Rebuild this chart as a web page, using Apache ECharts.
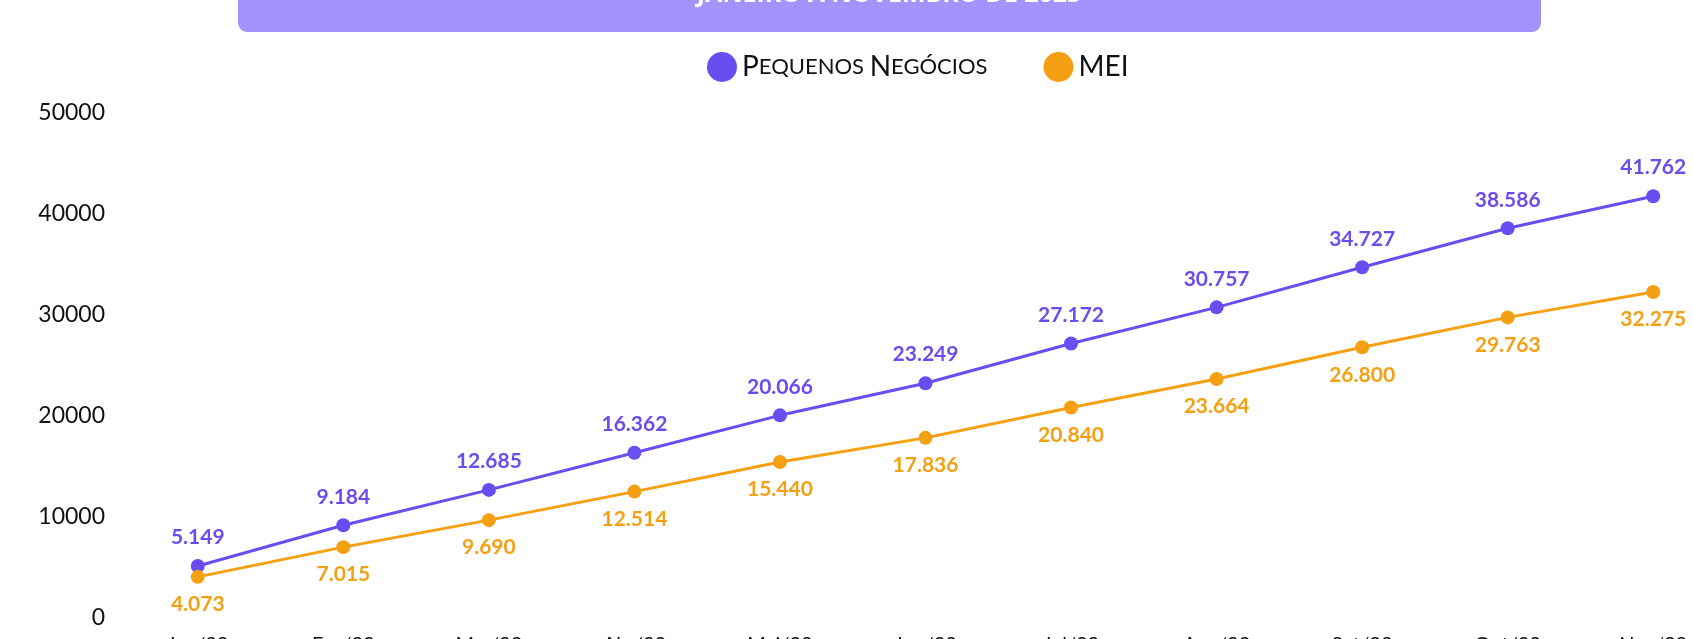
<!DOCTYPE html>
<html>
<head>
<meta charset="utf-8">
<script src="https://cdn.jsdelivr.net/npm/echarts@6/dist/echarts.min.js"></script>
<style>
  html, body { margin: 0; padding: 0; background: #fff; }
  #main { width: 1693px; height: 639px; }
</style>
</head>
<body>
<div id="main"></div>
<script>
// dados
let months = ["Jan/23", "Fev/23", "Mar/23", "Abr/23", "Mai/23", "Jun/23", "Jul/23", "Ago/23", "Set/23", "Out/23", "Nov/23"]
let pequenos = [5149, 9184, 12685, 16362, 20066, 23249, 27172, 30757, 34727, 38586, 41762]
let mei = [4073, 7015, 9690, 12514, 15440, 17836, 20840, 23664, 26800, 29763, 32275]
let yTicks = [0, 10000, 20000, 30000, 40000, 50000]

let roxo = '#6A4DF0'
let laranja = '#F4A012'

// numero no formato brasileiro: 41762 -> 41.762
function fmt(v) {
    return v.toString().replace(/\B(?=(\d{3})+(?!\d))/g, '.')
}

// imita versalete: primeira letra maior, resto em caixa alta menor
function versalete(name) {
    return name.split(' ').map(w => {
        let rest = w.slice(1)
        if (rest === rest.toUpperCase()) return '{c|' + w + '}'
        return '{c|' + w[0] + '}{s|' + rest.toUpperCase() + '}'
    }).join('{s| }')
}

var myChart = echarts.init(document.getElementById('main'))

var option = {
    backgroundColor: '#fff',
    animation: false,
    textStyle: { fontFamily: 'Lato' },
    graphic: [
        {
            type: 'rect',
            shape: { x: 238, y: -20, width: 1303, height: 52, r: 9 },
            style: { fill: '#A593FD' }
        },
        {
            type: 'text',
            x: 889, y: 7,
            style: {
                text: 'JANEIRO A NOVEMBRO DE 2023',
                fill: '#fff',
                font: 'bold 25px "Open Sans"',
                align: 'center',
                verticalAlign: 'bottom'
            }
        }
    ],
    legend: {
        left: 702,
        top: 47,
        icon: 'circle',
        itemWidth: 30,
        itemHeight: 30,
        itemGap: 56,
        formatter: versalete,
        textStyle: {
            color: '#111',
            rich: {
                c: { fontSize: 28, fontFamily: 'Lato', color: '#111' },
                s: { fontSize: 22, fontFamily: 'Lato', color: '#111' }
            }
        },
        data: ['Pequenos Negócios', 'MEI']
    },
    grid: {
        left: 125,
        width: 1601,
        top: 113,
        bottom: 21,
        outerBoundsMode: 'none'
    },
    xAxis: {
        type: 'category',
        data: months,
        boundaryGap: true,
        axisLine: { show: false },
        axisTick: { show: false },
        axisLabel: { margin: 17, fontSize: 20, color: '#111' }
    },
    yAxis: {
        type: 'value',
        min: yTicks[0],
        max: yTicks[yTicks.length - 1],
        interval: yTicks[1] - yTicks[0],
        splitLine: { show: false },
        axisLine: { show: false },
        axisTick: { show: false },
        axisLabel: { margin: 20, fontSize: 23, color: '#111', formatter: v => String(v) }
    },
    series: [
        {
            name: 'Pequenos Negócios',
            type: 'line',
            data: pequenos,
            symbol: 'circle',
            symbolSize: 14,
            lineStyle: { width: 3, color: roxo },
            itemStyle: { color: roxo },
            label: {
                show: true,
                position: 'top',
                distance: 11,
                color: roxo,
                fontWeight: 'bold',
                fontSize: 21,
                formatter: p => fmt(p.value)
            }
        },
        {
            name: 'MEI',
            type: 'line',
            data: mei,
            symbol: 'circle',
            symbolSize: 14,
            lineStyle: { width: 3, color: laranja },
            itemStyle: { color: laranja },
            label: {
                show: true,
                position: 'bottom',
                distance: 10,
                color: laranja,
                fontWeight: 'bold',
                fontSize: 21,
                formatter: p => fmt(p.value)
            }
        }
    ]
}

myChart.setOption(option)
</script>
</body>
</html>
